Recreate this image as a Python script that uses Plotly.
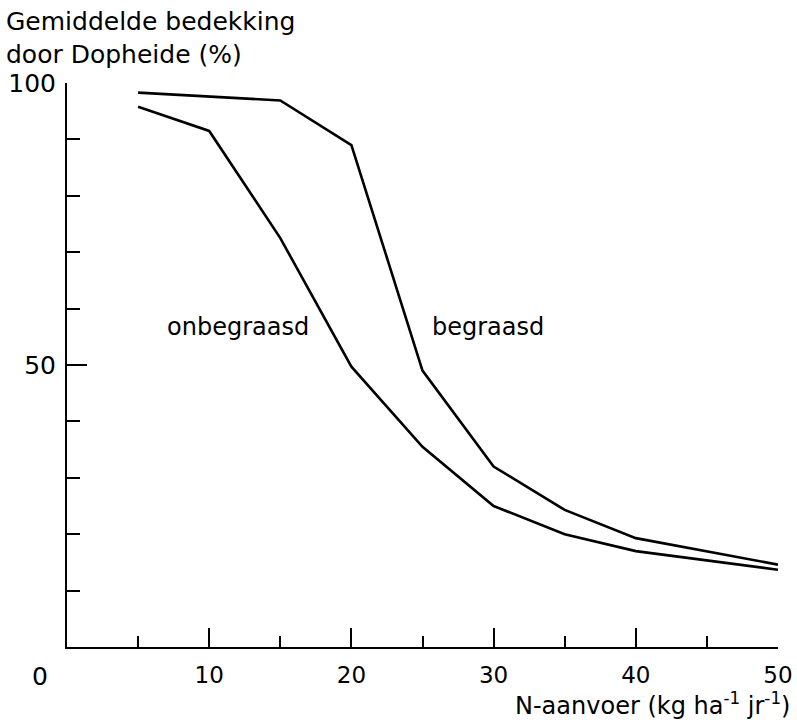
import plotly.graph_objects as go

# N-aanvoer (kg/ha/jr) en gemiddelde bedekking door Dopheide (%)
begraasd_x = [5, 15, 20, 25, 30, 35, 40, 50]
begraasd_y = [98.3, 96.9, 89.0, 49.0, 32.0, 24.3, 19.3, 14.6]

onbegraasd_x = [5, 10, 15, 20, 25, 30, 35, 40, 50]
onbegraasd_y = [95.8, 91.5, 72.5, 49.7, 35.5, 25.0, 20.0, 17.0, 13.7]

x_ticks = [10, 20, 30, 40, 50]
y_ticks = [50, 100]

FONT = "DejaVu Sans"
INK = "black"

# plot area in pixels: x 67..778, y 83..647
L, R, T, B = 67, 778, 83, 647


def px_x(p):
    return (p - L) / (R - L)


def px_y(p):
    return (B - p) / (B - T)


fig = go.Figure()
for xs, ys in [(begraasd_x, begraasd_y), (onbegraasd_x, onbegraasd_y)]:
    fig.add_trace(go.Scatter(
        x=xs, y=ys, mode="lines",
        line=dict(color=INK, width=2.6),
        showlegend=False, hoverinfo="skip",
    ))

fig.update_xaxes(
    range=[0, 50], showgrid=False, zeroline=False, automargin=False,
    showline=True, linecolor=INK, linewidth=2,
    ticks="inside", ticklen=19, tickwidth=2, tickcolor=INK,
    tickvals=x_ticks, ticktext=[str(v) for v in x_ticks],
    tickfont=dict(family=FONT, size=23, color=INK),
    minor=dict(ticks="inside", ticklen=11, tickwidth=1.5, tickcolor=INK, dtick=5, tick0=0),
    ticklabelstandoff=6,
)
fig.update_yaxes(
    range=[0, 100], showgrid=False, zeroline=False, automargin=False,
    showline=True, linecolor=INK, linewidth=2,
    ticks="inside", ticklen=20, tickwidth=2, tickcolor=INK,
    tickvals=y_ticks, ticktext=[str(v) for v in y_ticks],
    tickfont=dict(family=FONT, size=25, color=INK),
    minor=dict(ticks="inside", ticklen=13, tickwidth=2, tickcolor=INK, dtick=10, tick0=0),
    ticklabelstandoff=4,
)

annotations = [
    dict(text="onbegraasd", x=6.9, y=56.7, xref="x", yref="y",
         xanchor="left", yanchor="middle", showarrow=False,
         font=dict(family=FONT, size=24, color=INK)),
    dict(text="begraasd", x=25.5, y=56.7, xref="x", yref="y",
         xanchor="left", yanchor="middle", showarrow=False,
         font=dict(family=FONT, size=24, color=INK)),
    dict(text="0", x=px_x(40), y=px_y(676), xref="paper", yref="paper",
         xanchor="center", yanchor="middle", showarrow=False,
         font=dict(family=FONT, size=25, color=INK)),
    dict(text="Gemiddelde bedekking<br>door Dopheide (%)",
         x=px_x(4), y=px_y(5), xref="paper", yref="paper",
         xanchor="left", yanchor="top", align="left", showarrow=False,
         font=dict(family=FONT, size=25, color=INK)),
    dict(text="N-aanvoer (kg ha<sup>-1</sup> jr<sup>-1</sup>)",
         x=px_x(792), y=px_y(704), xref="paper", yref="paper",
         xanchor="right", yanchor="middle", showarrow=False,
         font=dict(family=FONT, size=24, color=INK)),
]

fig.update_layout(
    width=797, height=727,
    margin=dict(l=L, r=797 - R, t=T, b=727 - B),
    paper_bgcolor="white", plot_bgcolor="white",
    annotations=annotations,
)

fig.write_html("out.html")
